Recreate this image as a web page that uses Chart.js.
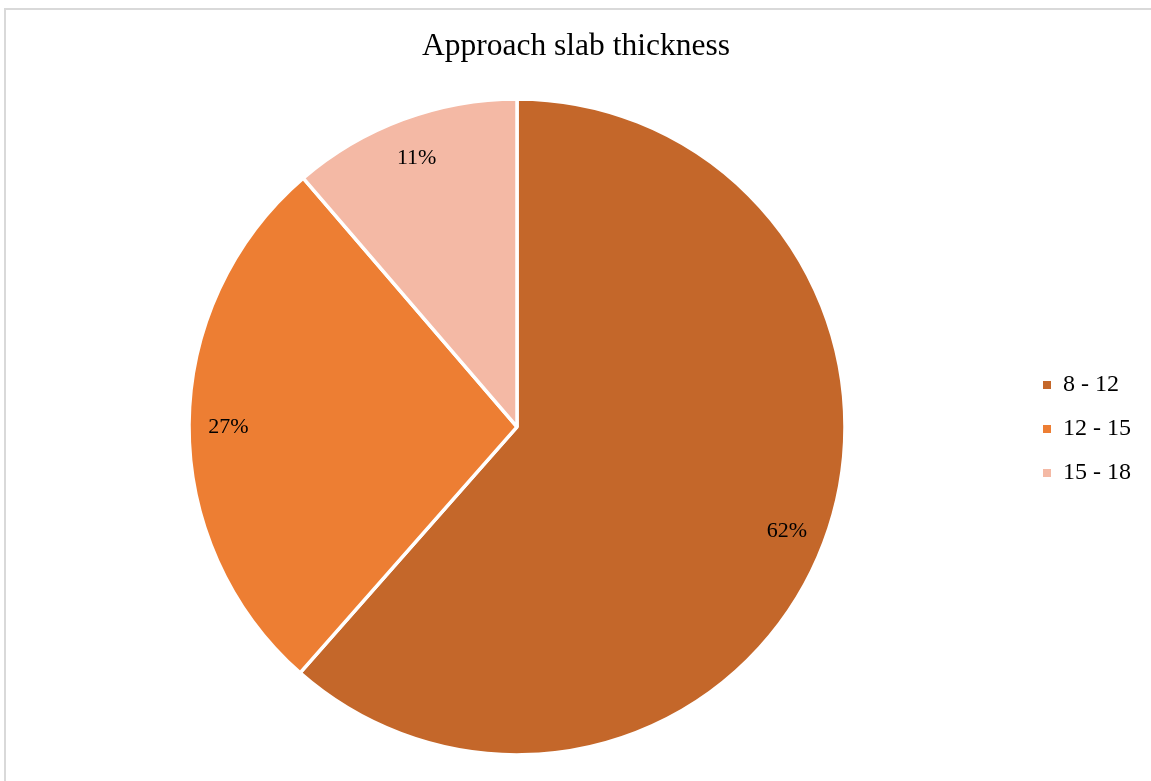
<!DOCTYPE html>
<html>
<head>
<meta charset="utf-8">
<script src="https://cdn.jsdelivr.net/npm/chart.js@4"></script>
<style>
  html, body { margin: 0; padding: 0; background: #ffffff; overflow: hidden; }
  #frame { position: absolute; left: 4px; top: 8px; width: 1300px; height: 1000px; border: 2px solid #d9d9d9; box-sizing: border-box; }
  #wrap { position: absolute; left: 0; top: 0; width: 1151px; height: 781px; }
</style>
</head>
<body>
<div id="frame"></div>
<div id="wrap"><canvas id="c" width="1151" height="781"></canvas></div>
<script>
const chartTitle = 'Approach slab thickness';
const categories = ['8 - 12', '12 - 15', '15 - 18'];
const shares = [61.5, 27.2, 11.3];
const sliceColors = ['#c4672a', '#ed7e33', '#f4b9a5'];

const serif = "'Liberation Serif', 'Times New Roman', serif";

const pieLabels = {
  id: 'pieLabels',
  afterDatasetsDraw(chart) {
    const ctx = chart.ctx;
    const meta = chart.getDatasetMeta(0);
    const data = chart.data.datasets[0].data;
    ctx.save();
    ctx.font = '22px ' + serif;
    ctx.fillStyle = '#000000';
    ctx.textAlign = 'center';
    ctx.textBaseline = 'middle';
    meta.data.forEach((arc, i) => {
      const p = arc.getProps(['x', 'y', 'startAngle', 'endAngle', 'outerRadius'], true);
      const mid = (p.startAngle + p.endAngle) / 2;
      const r = p.outerRadius * 0.88;
      ctx.fillText(Math.round(data[i]) + '%', p.x + Math.cos(mid) * r, p.y + Math.sin(mid) * r + 2);
    });
    ctx.restore();
  }
};

new Chart(document.getElementById('c'), {
  type: 'pie',
  data: {
    labels: categories,
    datasets: [{
      data: shares,
      backgroundColor: sliceColors,
      borderColor: '#ffffff',
      borderWidth: 3.5,
      radius: 328
    }]
  },
  options: {
    responsive: false,
    animation: false,
    layout: { padding: { left: 11, right: 10, top: 0, bottom: 27 } },
    plugins: {
      title: {
        display: true,
        text: chartTitle,
        color: '#000000',
        font: { family: serif, size: 31.5, weight: 'normal' },
        padding: { top: 28, bottom: 34 }
      },
      legend: {
        position: 'right',
        title: {
          display: true,
          text: ' ',
          font: { size: 10 },
          padding: { top: 92, bottom: 0 }
        },
        labels: {
          boxWidth: 8,
          boxHeight: 8,
          padding: 20,
          color: '#000000',
          font: { family: serif, size: 24 },
          generateLabels(chart) {
            return Chart.overrides.pie.plugins.legend.labels.generateLabels(chart)
              .map(l => Object.assign({}, l, { lineWidth: 0, strokeStyle: 'rgba(0,0,0,0)' }));
          }
        }
      },
      tooltip: { enabled: false }
    }
  },
  plugins: [pieLabels]
});
</script>
</body>
</html>
